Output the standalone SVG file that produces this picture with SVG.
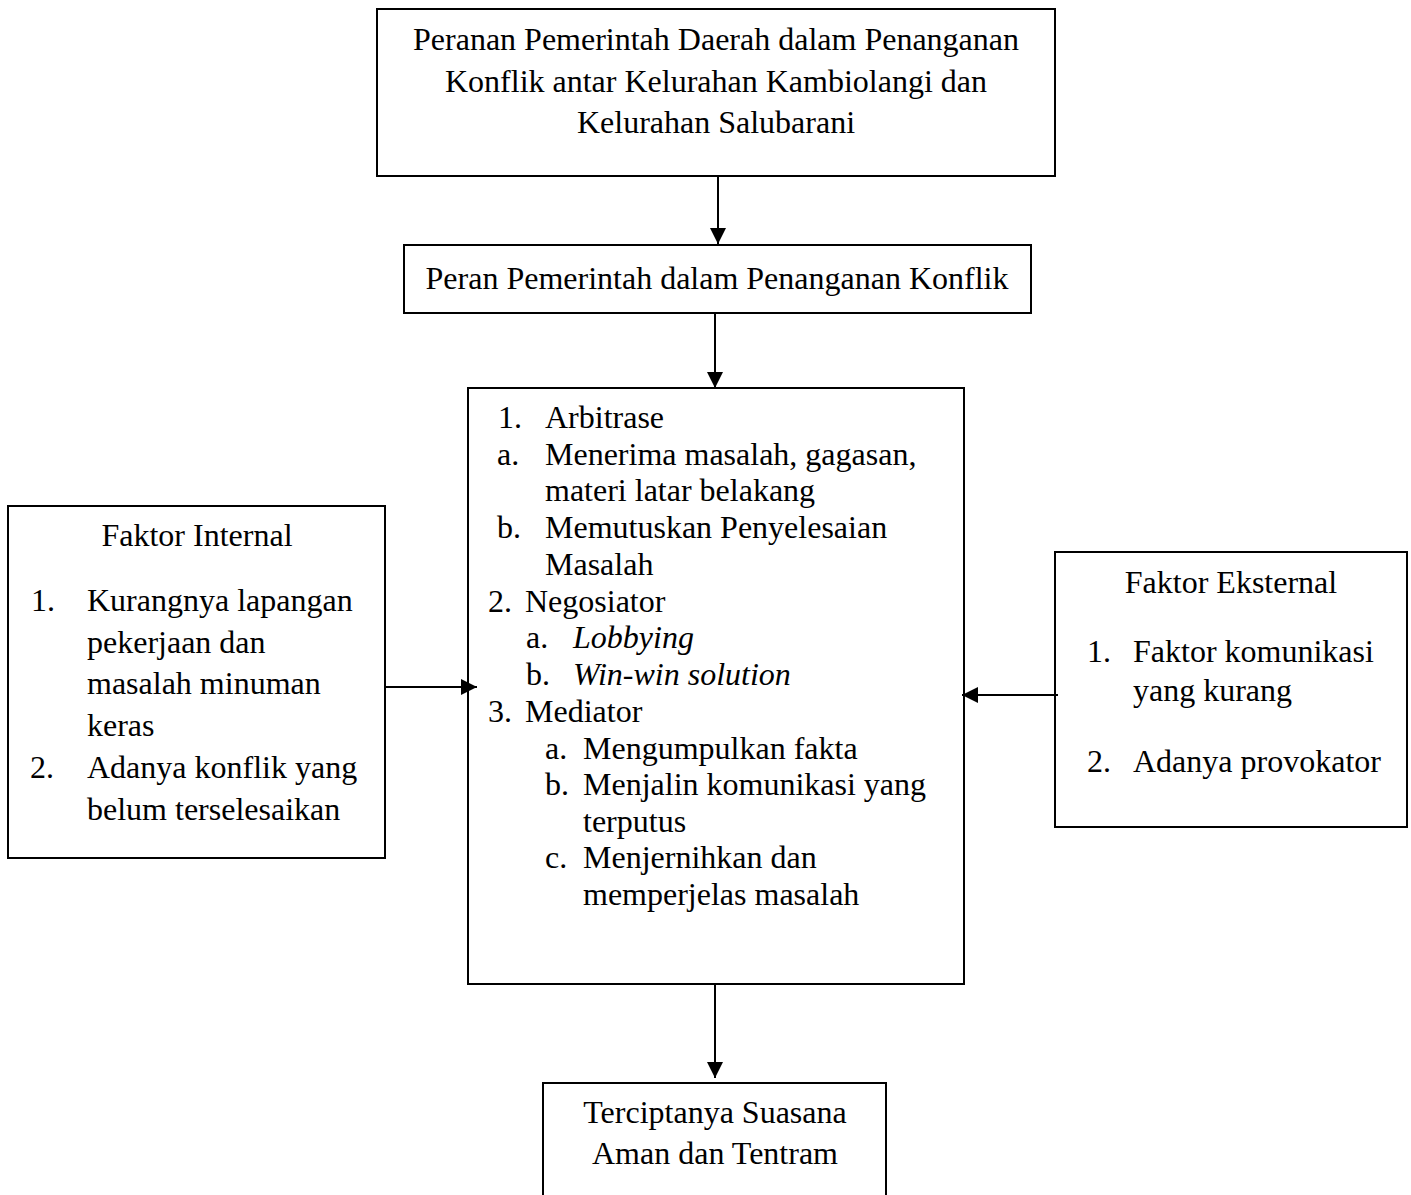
<svg xmlns="http://www.w3.org/2000/svg" width="1411" height="1195" viewBox="0 0 1411 1195">
<style>
.box{fill:#fff;stroke:#000;stroke-width:2}
text{font-family:"Liberation Serif","Times New Roman",serif;font-size:32px;fill:#000}
.c{text-anchor:middle}
.i{font-style:italic}
.con{stroke:#000;stroke-width:2;fill:none;marker-end:url(#ah)}
</style>
<defs>
<marker id="ah" viewBox="0 0 16 16" refX="16" refY="8" markerWidth="16" markerHeight="16" markerUnits="userSpaceOnUse" orient="auto">
<path d="M0,0 L16,8 L0,16 z" fill="#000"/>
</marker>
</defs>
<rect width="1411" height="1195" fill="#fff"/>
<g id="node-top">
<rect class="box" x="377" y="9" width="678" height="167"/>
<text class="c" x="716" y="50">Peranan Pemerintah Daerah dalam Penanganan</text>
<text class="c" x="716" y="92">Konflik antar Kelurahan Kambiolangi dan</text>
<text class="c" x="716" y="133">Kelurahan Salubarani</text>
</g>
<g id="node-peran">
<rect class="box" x="404" y="245" width="627" height="68"/>
<text class="c" x="717" y="289">Peran Pemerintah dalam Penanganan Konflik</text>
</g>
<g id="node-center">
<rect class="box" x="468" y="388" width="496" height="596"/>
<text x="498" y="428">1.</text><text x="545" y="428">Arbitrase</text>
<text x="497" y="465">a.</text><text x="545" y="465">Menerima masalah, gagasan,</text>
<text x="545" y="501">materi latar belakang</text>
<text x="497" y="538">b.</text><text x="545" y="538">Memutuskan Penyelesaian</text>
<text x="545" y="575">Masalah</text>
<text x="488" y="612">2.</text><text x="525" y="612">Negosiator</text>
<text x="526" y="648">a.</text><text class="i" x="573" y="648">Lobbying</text>
<text x="526" y="685">b.</text><text class="i" x="573" y="685">Win-win solution</text>
<text x="488" y="722">3.</text><text x="525" y="722">Mediator</text>
<text x="545" y="759">a.</text><text x="583" y="759">Mengumpulkan fakta</text>
<text x="545" y="795">b.</text><text x="583" y="795">Menjalin komunikasi yang</text>
<text x="583" y="832">terputus</text>
<text x="545" y="868">c.</text><text x="583" y="868">Menjernihkan dan</text>
<text x="583" y="905">memperjelas masalah</text>
</g>
<g id="node-internal">
<rect class="box" x="8" y="506" width="377" height="352"/>
<text class="c" x="197" y="546">Faktor Internal</text>
<text x="31" y="611">1.</text><text x="87" y="611">Kurangnya lapangan</text>
<text x="87" y="653">pekerjaan dan</text>
<text x="87" y="694">masalah minuman</text>
<text x="87" y="736">keras</text>
<text x="30" y="778">2.</text><text x="87" y="778">Adanya konflik yang</text>
<text x="87" y="820">belum terselesaikan</text>
</g>
<g id="node-eksternal">
<rect class="box" x="1055" y="552" width="352" height="275"/>
<text class="c" x="1231" y="593">Faktor Eksternal</text>
<text x="1087" y="662">1.</text><text x="1133" y="662">Faktor komunikasi</text>
<text x="1133" y="701">yang kurang</text>
<text x="1087" y="772">2.</text><text x="1133" y="772">Adanya provokator</text>
</g>
<g id="node-bottom">
<rect class="box" x="543" y="1083" width="343" height="150"/>
<text class="c" x="715" y="1123">Terciptanya Suasana</text>
<text class="c" x="715" y="1164">Aman dan Tentram</text>
</g>
<g id="connectors">
<line class="con" x1="718" y1="176" x2="718" y2="244"/>
<line class="con" x1="715" y1="313" x2="715" y2="388"/>
<line class="con" x1="715" y1="984" x2="715" y2="1078"/>
<line class="con" x1="385" y1="687" x2="477" y2="687"/>
<line class="con" x1="1058" y1="695" x2="962" y2="695"/>
</g>
</svg>
